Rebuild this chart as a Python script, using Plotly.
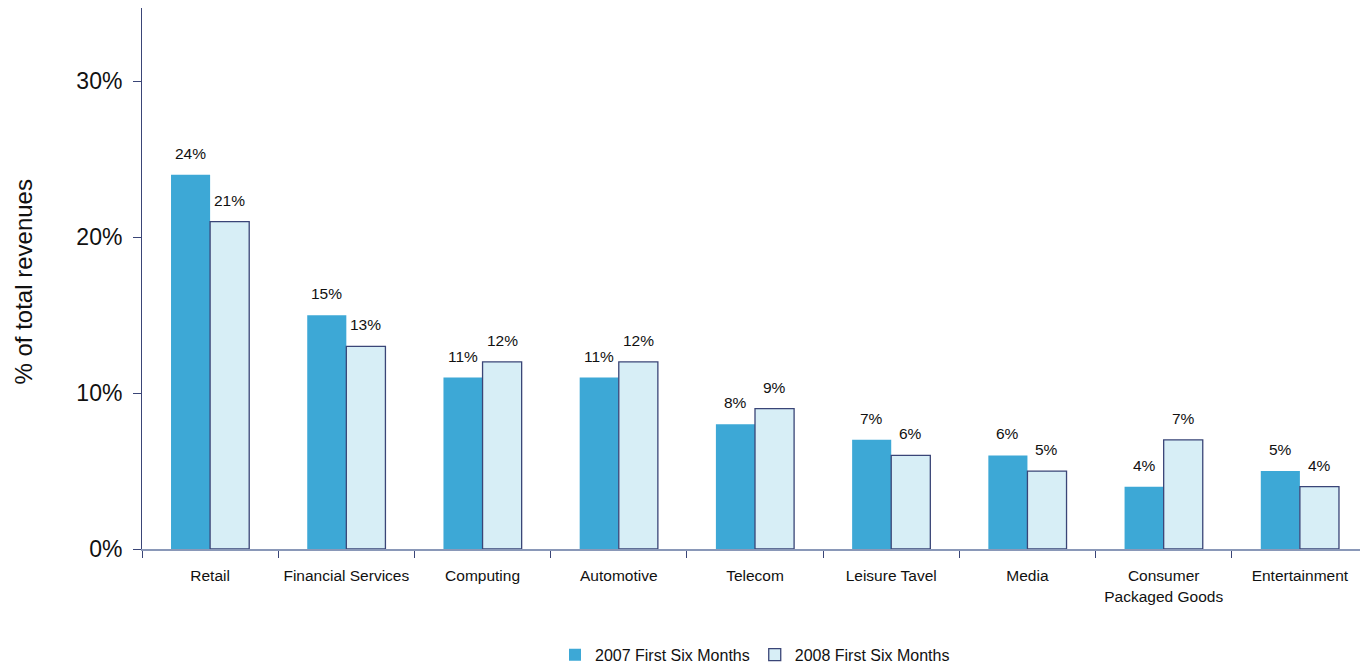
import plotly.graph_objects as go

categories = ["Retail", "Financial Services", "Computing", "Automotive", "Telecom",
              "Leisure Tavel", "Media", "Consumer<br>Packaged Goods", "Entertainment"]
values_2007 = [24, 15, 11, 11, 8, 7, 6, 4, 5]
values_2008 = [21, 13, 12, 12, 9, 6, 5, 7, 4]
series_names = ["2007 First Six Months", "2008 First Six Months"]
y_ticks = [0, 10, 20, 30]
y_tick_labels = ["0%", "10%", "20%", "30%"]
y_title = "% of total revenues"

FONT = "Liberation Sans, Arial, sans-serif"

fig = go.Figure()
fig.add_trace(go.Bar(
    x=categories, y=values_2007, name=series_names[0],
    marker=dict(color="#3DA8D6", line=dict(color="#3DA8D6", width=0)),
))
fig.add_trace(go.Bar(
    x=categories, y=values_2008, name=series_names[1],
    marker=dict(color="#D7EEF6", line=dict(color="#3A4577", width=1.3)),
))

# data labels above each bar (offset to the left / right bar of each group)
bar_px = 19.5
for vals, shift in ((values_2007, -bar_px), (values_2008, bar_px)):
    for c, v in zip(categories, vals):
        fig.add_annotation(x=c, y=v, text=f"{v}%", showarrow=False,
                           xshift=shift, yshift=11, yanchor="bottom",
                           font=dict(size=15.5, family=FONT, color="#111111"))

# y-axis title
fig.add_annotation(text=y_title, xref="paper", yref="paper", x=0, y=0.5,
                   xshift=-119, yshift=-4, textangle=-90, showarrow=False,
                   xanchor="center", yanchor="middle",
                   font=dict(size=24, family=FONT, color="#111111"))

fig.update_layout(
    width=1360, height=656,
    margin=dict(l=134, r=0, t=0, b=115, autoexpand=False),
    paper_bgcolor="white", plot_bgcolor="white",
    barmode="group", bargap=0.426, bargroupgap=0,
    font=dict(family=FONT, color="#111111"),
    showlegend=True,
    legend=dict(orientation="h", x=0.5, xanchor="center",
                yref="container", y=0.014, yanchor="middle",
                font=dict(size=16, family=FONT), itemwidth=30, traceorder="normal",
                bgcolor="rgba(0,0,0,0)"),
)
fig.update_xaxes(
    showline=True, linecolor="#8A98B8", linewidth=1.5,
    ticks="outside", tickson="boundaries", ticklen=7, tickcolor="#3A4577", tickwidth=1,
    tickfont=dict(size=15.5, family=FONT, color="#111111"),
    tickangle=0, ticklabelstandoff=12, automargin=False,
    showgrid=False, zeroline=False,
)
fig.update_yaxes(
    range=[0, 34.7], tickvals=y_ticks, ticktext=y_tick_labels,
    showline=True, linecolor="#3A4577", linewidth=1,
    ticks="outside", ticklen=8, tickcolor="#3A4577",
    tickfont=dict(size=23, family=FONT, color="#111111"),
    ticklabelstandoff=6,
    showgrid=False, zeroline=False,
    automargin=False,
)

fig.write_html("out.html")
